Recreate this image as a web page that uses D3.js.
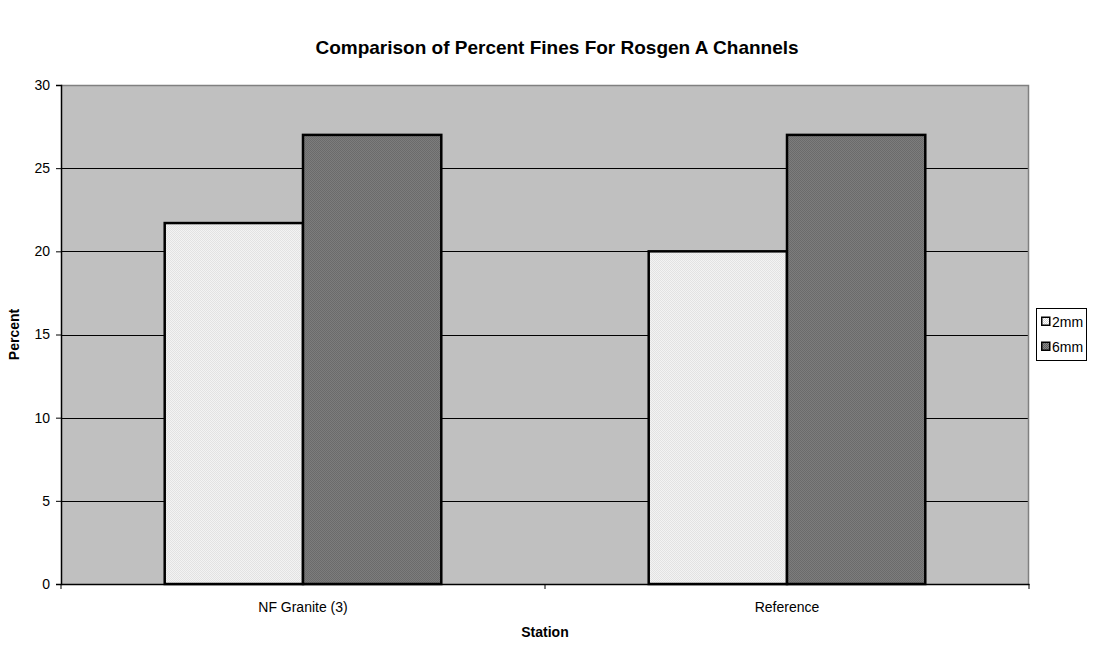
<!DOCTYPE html>
<html>
<head>
<meta charset="utf-8">
<script src="https://cdn.jsdelivr.net/npm/d3@7"></script>
<style>
  html, body { margin: 0; padding: 0; background: #fff; }
  svg { display: block; font-family: "Liberation Sans", Arial, sans-serif; }
</style>
</head>
<body>
<svg id="chart" width="1114" height="645"></svg>
<script>
// Chart data
const stations = ["NF Granite (3)", "Reference"];
const seriesNames = ["2mm", "6mm"];
const values2mm = [21.7, 20];
const values6mm = [27, 27];
const yTicks = [0, 5, 10, 15, 20, 25, 30];

const W = 1114, H = 645;
const margin = { left: 61, right: 85, top: 85, bottom: 61 };
const plotW = W - margin.left - margin.right;
const plotH = H - margin.top - margin.bottom;

const svg = d3.select("#chart");

// Fill patterns for the two series
const defs = svg.append("defs");
function checker(id, a, b) {
  const p = defs.append("pattern").attr("id", id)
    .attr("width", 2).attr("height", 2).attr("patternUnits", "userSpaceOnUse");
  p.append("rect").attr("width", 2).attr("height", 2).attr("fill", a);
  p.append("rect").attr("width", 1).attr("height", 1).attr("fill", b);
  p.append("rect").attr("x", 1).attr("y", 1).attr("width", 1).attr("height", 1).attr("fill", b);
}
checker("pat2mm", "#ffffff", "#d6d6d6");
checker("pat6mm", "#8a8a8a", "#5e5e5e");
const fills = { "2mm": "url(#pat2mm)", "6mm": "url(#pat6mm)" };

const x0 = d3.scaleBand().domain(stations).range([0, plotW]).paddingInner(0).paddingOuter(0);
// gap of 150% of a bar width between clusters: bar = band / 3.5
const inner = 2 / 3.5;
const x1 = d3.scaleBand().domain(seriesNames)
  .range([0, x0.bandwidth() * inner]).padding(0);
const y = d3.scaleLinear().domain([0, 30]).range([plotH, 0]);

const g = svg.append("g").attr("transform", `translate(${margin.left},${margin.top})`);

// Plot background
g.append("rect").attr("width", plotW).attr("height", plotH).attr("fill", "#c0c0c0");

// Gridlines
g.append("g").selectAll("line").data(yTicks.filter(t => t > 0 && t < 30)).join("line")
  .attr("x1", 0).attr("x2", plotW)
  .attr("y1", d => Math.round(y(d)) + 0.5).attr("y2", d => Math.round(y(d)) + 0.5)
  .attr("stroke", "#000").attr("stroke-width", 1);

// Top and right plot border
g.append("path")
  .attr("d", `M0,0.5H${plotW - 0.5}V${plotH}`)
  .attr("fill", "none").attr("stroke", "#808080").attr("stroke-width", 1.5);

// Bars
const rows = stations.map((s, i) => ({ station: s, vals: [
  { key: "2mm", v: values2mm[i] }, { key: "6mm", v: values6mm[i] } ] }));

const groups = g.append("g").selectAll("g").data(rows).join("g")
  .attr("transform", d => `translate(${x0(d.station) + x0.bandwidth() * (1 - inner) / 2},0)`);
groups.selectAll("rect").data(d => d.vals).join("rect")
  .attr("x", d => x1(d.key))
  .attr("y", d => y(d.v))
  .attr("width", x1.bandwidth())
  .attr("height", d => plotH - y(d.v))
  .attr("fill", d => fills[d.key])
  .attr("stroke", "#000").attr("stroke-width", 2.5);

const FONT = "Liberation Sans, Arial, sans-serif";

// Y axis
const yAxis = g.append("g").call(d3.axisLeft(y).tickValues(yTicks).tickSize(5).tickPadding(6));
yAxis.select(".domain").attr("stroke", "#000").attr("stroke-width", 1.5);
yAxis.selectAll(".tick line").attr("stroke", "#000");
yAxis.selectAll("text").attr("font-size", 14).attr("fill", "#000").attr("font-family", FONT);

// X axis with ticks at cluster boundaries
const xAxis = g.append("g").attr("transform", `translate(0,${plotH})`)
  .call(d3.axisBottom(x0).tickSize(0).tickPadding(18));
xAxis.select(".domain").attr("stroke", "#000").attr("stroke-width", 1.5);
xAxis.selectAll("text").attr("font-size", 14).attr("fill", "#000").attr("font-family", FONT);
const bounds = [0, ...stations.map(s => x0(s) + x0.bandwidth())];
xAxis.selectAll("line.bnd").data(bounds).join("line").attr("class", "bnd")
  .attr("x1", d => d).attr("x2", d => d).attr("y1", 0).attr("y2", 5)
  .attr("stroke", "#000");

// Title and axis titles
svg.append("text").attr("x", W / 2).attr("y", 54).attr("text-anchor", "middle")
  .attr("font-size", 19).attr("font-weight", "bold").text("Comparison of Percent Fines For Rosgen A Channels");
svg.append("text").attr("x", margin.left + plotW / 2).attr("y", 637).attr("text-anchor", "middle")
  .attr("font-size", 14).attr("font-weight", "bold").text("Station");
svg.append("text").attr("transform", `translate(19,${margin.top + plotH / 2}) rotate(-90)`)
  .attr("text-anchor", "middle").attr("font-size", 14).attr("font-weight", "bold").text("Percent");

// Legend
const lg = svg.append("g").attr("transform", "translate(1036,308)");
lg.append("rect").attr("x", 0.5).attr("y", 0.5).attr("width", 50).attr("height", 52)
  .attr("fill", "#fff").attr("stroke", "#000").attr("stroke-width", 1);
seriesNames.forEach((name, i) => {
  const row = lg.append("g").attr("transform", `translate(5,${14 + i * 25})`);
  row.append("rect").attr("x", 0.75).attr("y", -4.75).attr("width", 8).attr("height", 8)
    .attr("fill", fills[name]).attr("stroke", "#000").attr("stroke-width", 1.5);
  row.append("text").attr("x", 11).attr("y", 4.5).attr("font-size", 14).text(name);
});
</script>
</body>
</html>
